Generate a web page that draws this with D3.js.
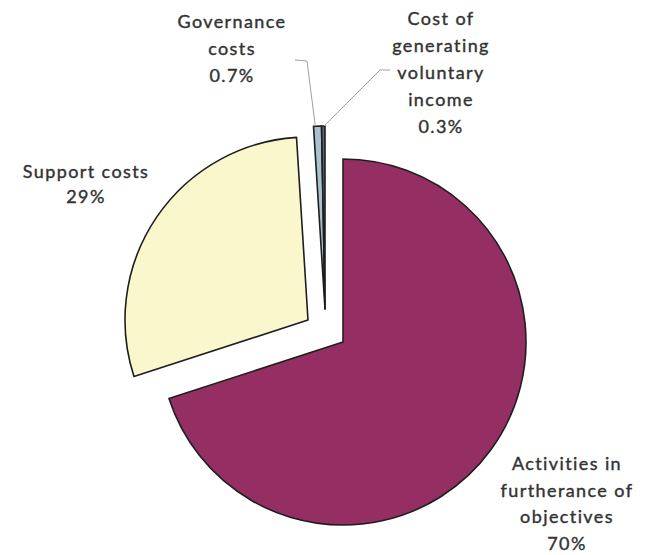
<!DOCTYPE html>
<html>
<head>
<meta charset="utf-8">
<script src="https://cdn.jsdelivr.net/npm/d3@7"></script>
<style>
  body { margin: 0; background: #fff; }
  text { font-family: Lato, "Open Sans", sans-serif; fill: #333; }
</style>
</head>
<body>
<div id="chart"></div>
<script>
// Expenditure breakdown (percent)
const categories = ['Activities in furtherance of objectives', 'Support costs', 'Governance costs', 'Cost of generating voluntary income'];
const values = [70, 29, 0.7, 0.3];
const valueLabels = ['70%', '29%', '0.7%', '0.3%'];
const labelLines = [
    ['Activities in', 'furtherance of', 'objectives'],
    ['Support costs'],
    ['Governance', 'costs'],
    ['Cost of', 'generating', 'voluntary', 'income']
];

const width = 651, height = 555;
const cx = 343, cy = 342, radius = 183;

const colors = ['#952f63', '#fbf7cc', '#a9c3ce', '#56676f'];

// how far each slice is pulled out of the pie
const explode = [[0, 0], [-35, -22], [-18, -33], [-18, -33]];

const svg = d3.select("#chart")
    .append("svg")
        .attr("width", width)
        .attr("height", height);

const g = svg.append("g")
    .attr("transform", "translate(" + cx + "," + cy + ")");

const pie = d3.pie().sort(null).value(d => d);
const arcs = pie(values);

const arc = d3.arc().innerRadius(0).outerRadius(radius);

g.selectAll("path.slice")
    .data(arcs)
    .enter()
    .append("path")
        .attr("class", "slice")
        .attr("d", arc)
        .attr("transform", (d, i) => "translate(" + explode[i][0] + "," + explode[i][1] + ")")
        .style("fill", (d, i) => colors[i])
        .style("stroke", "#1e1e1e")
        .style("stroke-width", 1.6)
        .style("stroke-linejoin", "round");

// leader lines for the two thin slices
const tip = (i, a) => {
    const ang = a - Math.PI / 2;
    return [cx + explode[i][0] + radius * Math.cos(ang), cy + explode[i][1] + radius * Math.sin(ang)];
};
const govTip = tip(2, arcs[2].startAngle + 0.01);
const volTip = tip(3, arcs[3].endAngle - 0.005);

const line = d3.line();
svg.append("path")
    .attr("d", line([[295, 60], [307, 61], govTip]))
    .style("fill", "none")
    .style("stroke", "#a0a0a0")
    .style("stroke-width", 1);
svg.append("path")
    .attr("d", line([volTip, [380, 70], [390, 70]]))
    .style("fill", "none")
    .style("stroke", "#a0a0a0")
    .style("stroke-width", 1);

// label blocks: anchor x, first baseline, line gap
const labelPos = [
    {x: 567, y: 470, gap: 26.5},
    {x: 86, y: 178, gap: 25},
    {x: 232, y: 28, gap: 27},
    {x: 441, y: 25, gap: 27}
];

labelPos.forEach((p, i) => {
    const lines = labelLines[i].concat([valueLabels[i]]);
    const t = svg.append("text")
        .attr("text-anchor", "middle")
        .style("font-size", "18px")
        .style("letter-spacing", "1.4px")
        .style("stroke", "#333")
        .style("stroke-width", 0.4);
    lines.forEach((s, j) => {
        t.append("tspan")
            .attr("x", p.x)
            .attr("y", p.y + j * p.gap)
            .text(s);
    });
});
</script>
</body>
</html>
